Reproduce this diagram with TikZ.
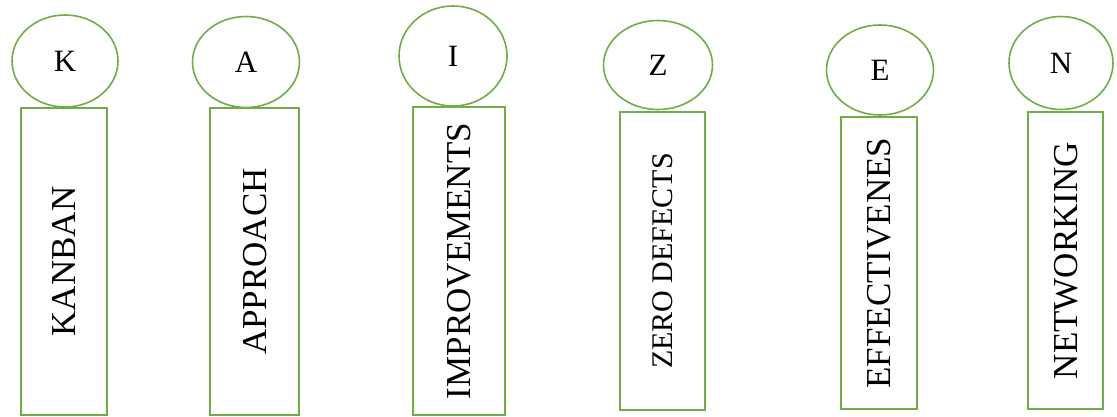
\documentclass[tikz,border=0pt]{standalone}
\usepackage{fontspec}
\setmainfont{Liberation Serif}
\usetikzlibrary{shapes.geometric}
\definecolor{leafgreen}{RGB}{112,173,71}
\tikzset{
  letterbubble/.style={ellipse, draw=leafgreen, line width=1.6pt, fill=white,
    inner sep=0pt, outer sep=0pt, text depth=0pt,
    font=\fontsize{31}{35}\selectfont},
  wordbox/.style={rectangle, draw=leafgreen, line width=1.6pt, fill=white,
    inner sep=0pt, outer sep=0pt, rotate=90, text depth=0pt,
    font=\fontsize{35}{40}\selectfont},
}
\begin{document}
\begin{tikzpicture}[x=1pt,y=-1pt]
\useasboundingbox (0,0) rectangle (1117,416);

% letter bubbles
\node[letterbubble, minimum width=106pt, minimum height=92pt]  (k) at (65,61)   {K};
\node[letterbubble, minimum width=107pt, minimum height=91pt]  (a) at (246,62)  {A};
\node[letterbubble, minimum width=108pt, minimum height=100pt] (i) at (453,56)  {I};
\node[letterbubble, minimum width=109pt, minimum height=89pt]  (z) at (658,65)  {Z};
\node[letterbubble, minimum width=107pt, minimum height=90pt]  (e) at (880,70)  {E};
\node[letterbubble, minimum width=104pt, minimum height=93pt]  (n) at (1061,63) {N};

% word boxes (width/height given along the rotated text)
\node[wordbox, minimum width=307pt, minimum height=86pt] (kanban) at (64,261.5)    {KANBAN};
\node[wordbox, minimum width=307pt, minimum height=89pt] (approach) at (254.5,261.5) {APPROACH};
\node[wordbox, minimum width=308pt, minimum height=92pt] (improve) at (459,261)     {IMPROVEMENTS};
\node[wordbox, minimum width=298pt, minimum height=85pt, font=\fontsize{30}{34}\selectfont]
      (zero) at (662.5,261) {ZERO DEFECTS};
\node[wordbox, minimum width=292pt, minimum height=76pt] (effect) at (879,263)     {EFFECTIVENES};
\node[wordbox, minimum width=297pt, minimum height=75pt] (network) at (1065.5,260.5) {NETWORKING};
\end{tikzpicture}
\end{document}
